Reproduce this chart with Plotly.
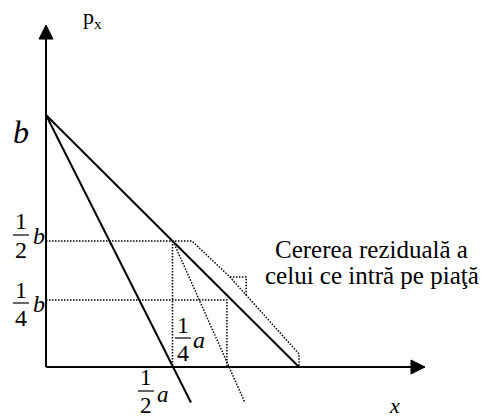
import plotly.graph_objects as go

# ---------------- data (economic units, a = 1, b = 1) ----------------
market_demand_x = [0.0, 1.0]
market_demand_p = [1.0, 0.0]

incumbent_mr_x = [0.0, 0.573]
incumbent_mr_p = [1.0, -0.141]

entrant_mr_x = [0.502, 0.787]
entrant_mr_p = [0.5, -0.143]

residual_x = [0.0, 0.577, 0.727, 1.0, 1.0]
residual_p = [0.5, 0.5, 0.357, 0.052, 0.0]

step_x = [0.727, 0.791, 0.791]
step_p = [0.357, 0.357, 0.286]

half_q_x = [0.5, 0.5]
half_q_p = [0.5, 0.0]

quarter_x = [0.0, 0.715, 0.715]
quarter_p = [0.266, 0.266, 0.0]

axis_x_end = 1.498
axis_p_end = 1.357

# ---------------- layout / style ----------------
W, H = 481, 418
X0, SX = 46, 253      # pixel of x=0, pixels per unit a
Y0, SY = 367, 252     # pixel of p=0, pixels per unit b
ARROW_LEN_PX = 14
ARROW_HALF_PX = 7
FONT = "Times New Roman, Liberation Serif, serif"
SOLID = dict(color="black", width=2)
DOTTED = dict(color="black", width=1.5, dash="1.5px,1.5px")

fig = go.Figure()

def add_line(xs, ps, style):
    fig.add_trace(go.Scatter(x=xs, y=ps, mode="lines", line=style,
                             hoverinfo="skip", showlegend=False))

# axes with arrowheads
alx = ARROW_LEN_PX / SX
ahx = ARROW_HALF_PX / SY
add_line([0, axis_x_end - alx], [0, 0], SOLID)
fig.add_trace(go.Scatter(x=[axis_x_end - alx, axis_x_end, axis_x_end - alx, axis_x_end - alx],
                         y=[ahx, 0, -ahx, ahx], mode="lines", fill="toself",
                         fillcolor="black", line=dict(color="black", width=1),
                         hoverinfo="skip", showlegend=False))
aly = ARROW_LEN_PX / SY
ahy = ARROW_HALF_PX / SX
add_line([0, 0], [0, axis_p_end - aly], SOLID)
fig.add_trace(go.Scatter(x=[-ahy, 0, ahy, -ahy],
                         y=[axis_p_end - aly, axis_p_end, axis_p_end - aly, axis_p_end - aly],
                         mode="lines", fill="toself",
                         fillcolor="black", line=dict(color="black", width=1),
                         hoverinfo="skip", showlegend=False))

# dotted construction lines
add_line(residual_x, residual_p, DOTTED)
add_line(step_x, step_p, DOTTED)
add_line(half_q_x, half_q_p, DOTTED)
add_line(quarter_x, quarter_p, DOTTED)
add_line(entrant_mr_x, entrant_mr_p, DOTTED)

# solid curves
add_line(market_demand_x, market_demand_p, SOLID)
add_line(incumbent_mr_x, incumbent_mr_p, SOLID)


def px(x):
    return x / W


def py(y):
    return 1 - y / H


annotations = []
shapes = []


def label(text, x, y, size, italic=False, anchor="center"):
    annotations.append(dict(
        text=text, x=px(x), y=py(y), xref="paper", yref="paper",
        xanchor=anchor, yanchor="middle", showarrow=False, borderpad=0,
        font=dict(family=FONT, size=size, color="black",
                  style="italic" if italic else "normal")))


def fraction(num, den, letter, xc, ybar, xl, yl, size=24):
    label(num, xc, ybar - 13.5, size)
    label(den, xc, ybar + 14.5, size)
    shapes.append(dict(type="line", xref="paper", yref="paper",
                       x0=px(xc - 8), x1=px(xc + 8), y0=py(ybar), y1=py(ybar),
                       line=dict(color="black", width=1.2)))
    label(letter, xl, yl, size, italic=True)


label("p<sub>x</sub>", 92, 18, 22)
label("b", 21, 132, 32, italic=True)
label("x", 394, 405, 22, italic=True)
fraction("1", "2", "b", 21, 235, 39, 236)
fraction("1", "4", "b", 21, 303, 39, 304)
fraction("1", "4", "a", 183, 338, 199, 340)
fraction("1", "2", "a", 146, 391, 163, 394, size=23)
label("Cererea reziduală a", 371, 249, 25)
label("celui ce intră pe piaţă", 372, 275, 25)

fig.update_layout(
    width=W, height=H,
    margin=dict(l=0, r=0, t=0, b=0),
    paper_bgcolor="white", plot_bgcolor="white",
    font=dict(family=FONT),
    xaxis=dict(range=[(0 - X0) / SX, (W - X0) / SX], visible=False, fixedrange=True),
    yaxis=dict(range=[(Y0 - H) / SY, Y0 / SY], visible=False, fixedrange=True),
    annotations=annotations, shapes=shapes,
    showlegend=False,
)

fig.write_html("out.html", post_script="document.body.style.margin='0px';",
               config={"displayModeBar": False})
